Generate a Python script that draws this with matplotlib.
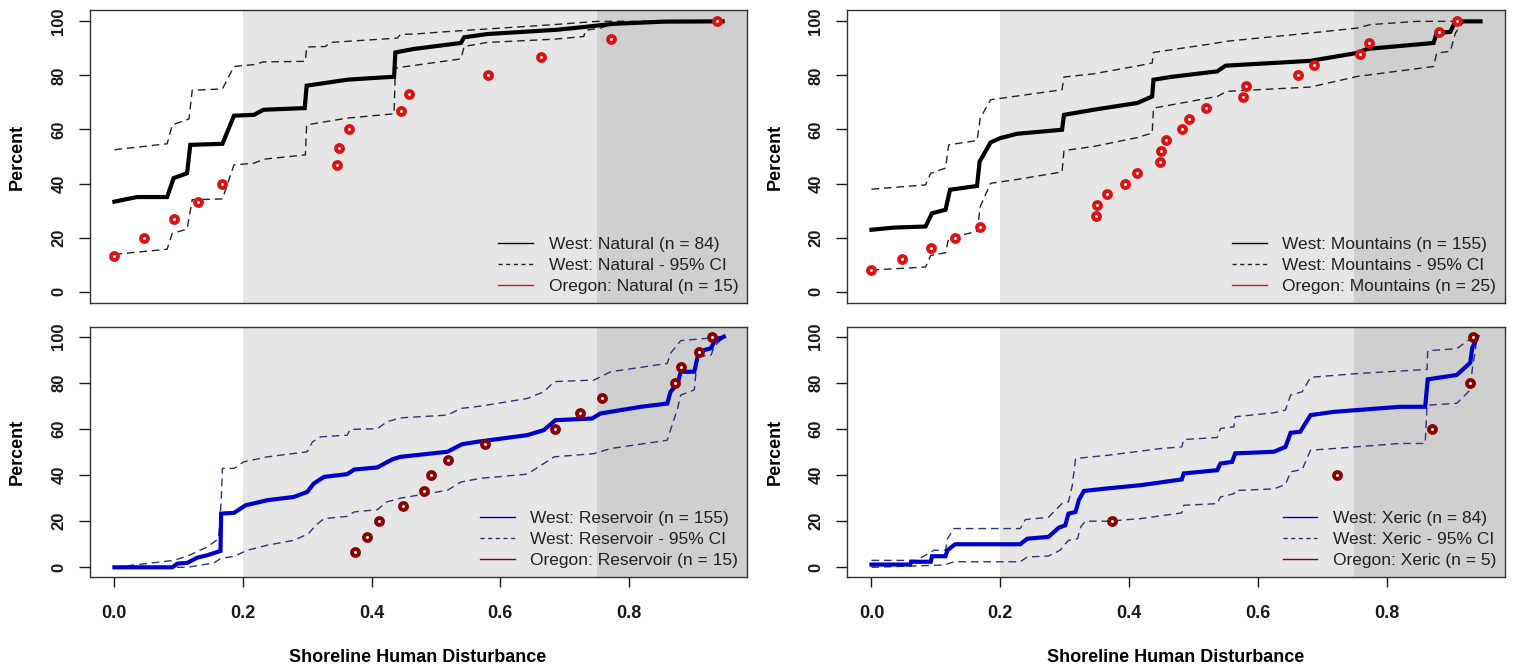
"""Shoreline disturbance CDFs: West vs Oregon, four lake classes."""

import matplotlib
matplotlib.use('Agg')
import matplotlib.pyplot as plt
from matplotlib.lines import Line2D

plt.rcParams['font.family'] = ['Liberation Sans', 'DejaVu Sans']

# ---- data ----
# Natural (top left)
nat_x = [0.0, 0.035, 0.082, 0.092, 0.113, 0.118, 0.168, 0.186, 0.217, 0.232, 0.296, 0.299, 0.362,
         0.393, 0.435, 0.437, 0.466, 0.539, 0.544, 0.58, 0.689, 0.730, 0.777, 0.855, 0.946]
nat_y = [33.3, 35.0, 35.0, 42.0, 43.8, 54.3, 54.7, 65.1, 65.4, 67.3, 67.9, 76.2, 78.4,
         78.9, 79.5, 88.5, 89.8, 92.0, 94.1, 95.3, 96.9, 97.9, 99.1, 99.9, 100.0]
nat_hi_x = [0.0, 0.082, 0.09, 0.116, 0.121, 0.168, 0.186, 0.217, 0.232, 0.297, 0.299, 0.328, 0.336,
            0.44, 0.445, 0.466, 0.523, 0.684, 0.751, 0.946]
nat_hi_y = [52.5, 54.7, 61.7, 63.9, 74.5, 75.0, 83.3, 84.0, 85.0, 85.2, 90.5, 90.7, 92.2,
            93.8, 95.2, 95.3, 96.3, 98.8, 100.0, 100.0]
nat_lo_x = [0.0, 0.082, 0.09, 0.113, 0.121, 0.168, 0.186, 0.217, 0.232, 0.297, 0.299, 0.362, 0.435,
            0.437, 0.463, 0.539, 0.544, 0.58, 0.684, 0.73, 0.733, 0.756, 0.772, 0.855, 0.946]
nat_lo_y = [13.8, 15.7, 21.6, 23.1, 34.0, 34.3, 46.9, 47.5, 49.0, 50.6, 61.7, 64.2, 65.8,
            82.7, 83.6, 86.1, 90.7, 92.2, 93.4, 94.4, 96.7, 97.5, 98.8, 99.6, 100.0]
nat_pt_x = [0.0, 0.046, 0.092, 0.13, 0.168, 0.347, 0.350, 0.365, 0.446, 0.458, 0.581, 0.663, 0.772, 0.937]
nat_pt_y = [13.3, 20.0, 26.7, 33.3, 40.0, 46.7, 53.3, 60.0, 66.7, 73.3, 80.0, 86.7, 93.3, 100.0]

# Mountains (top right)
mtn_x = [0.0, 0.035, 0.084, 0.094, 0.115, 0.122, 0.164, 0.168, 0.185, 0.2, 0.226, 0.296, 0.299, 0.345,
         0.413, 0.436, 0.438, 0.464, 0.537, 0.55, 0.682, 0.754, 0.77, 0.873, 0.878, 0.899, 0.907, 0.946]
mtn_y = [22.9, 23.7, 24.1, 29.0, 30.3, 37.7, 39.1, 48.1, 55.2, 56.8, 58.4, 59.9, 65.4, 67.3,
         69.8, 72.2, 78.4, 79.4, 81.5, 83.6, 85.4, 88.3, 89.8, 92.0, 95.7, 96.1, 100.0, 100.0]
mtn_hi_x = [0.0, 0.084, 0.092, 0.115, 0.12, 0.164, 0.169, 0.185, 0.221, 0.296, 0.299, 0.345, 0.413,
            0.436, 0.438, 0.537, 0.55, 0.682, 0.754, 0.775, 0.847, 0.946]
mtn_hi_y = [37.9, 39.5, 43.8, 45.7, 54.3, 55.9, 64.2, 71.0, 72.2, 74.7, 79.4, 80.6, 83.5,
            84.6, 88.5, 92.0, 92.6, 95.7, 97.5, 98.8, 100.0, 100.0]
mtn_lo_x = [0.0, 0.084, 0.092, 0.115, 0.12, 0.164, 0.169, 0.185, 0.221, 0.296, 0.299, 0.345, 0.413,
            0.436, 0.438, 0.537, 0.552, 0.682, 0.754, 0.873, 0.878, 0.899, 0.907, 0.92, 0.946]
mtn_lo_y = [8.0, 9.1, 13.4, 14.4, 19.8, 22.3, 31.5, 40.1, 41.3, 44.3, 52.2, 53.7, 57.0,
            58.7, 67.9, 72.2, 74.1, 75.7, 79.6, 83.3, 88.3, 88.9, 95.7, 100.0, 100.0]
mtn_pt_x = [0.0, 0.048, 0.093, 0.130, 0.168, 0.348, 0.351, 0.366, 0.394, 0.413, 0.448, 0.450,
            0.458, 0.482, 0.493, 0.520, 0.577, 0.582, 0.662, 0.687, 0.759, 0.772, 0.881, 0.909]
mtn_pt_y = [8, 12, 16, 20, 24, 28, 32, 36, 40, 44, 48, 52, 56, 60, 64, 68, 72, 76, 80, 84, 88, 92, 96, 100]

# Reservoir (bottom left)
res_x = [0.0, 0.09, 0.098, 0.113, 0.129, 0.144, 0.165, 0.166, 0.186, 0.204, 0.238, 0.279, 0.3,
         0.31, 0.326, 0.362, 0.373, 0.409, 0.432, 0.445, 0.518, 0.541, 0.564, 0.642, 0.668,
         0.686, 0.743, 0.756, 0.819, 0.86, 0.865, 0.876, 0.881, 0.902, 0.909, 0.928, 0.933, 0.948]
res_y = [0.0, 0.0, 1.6, 1.9, 4.2, 5.2, 7.1, 23.3, 23.6, 26.9, 29.1, 30.5, 32.7,
         36.3, 39.2, 40.4, 42.4, 43.3, 46.8, 47.9, 50.1, 53.4, 54.4, 57.3, 59.5,
         63.8, 64.5, 66.7, 69.6, 71.0, 76.1, 79.7, 84.8, 84.8, 93.5, 95.0, 97.8, 100.0]
res_hi_x = [0.0, 0.092, 0.113, 0.144, 0.162, 0.166, 0.168, 0.186, 0.201, 0.238, 0.3, 0.308,
            0.321, 0.362, 0.367, 0.409, 0.424, 0.445, 0.518, 0.539, 0.57, 0.642, 0.668,
            0.684, 0.746, 0.772, 0.86, 0.865, 0.881, 0.922, 0.934, 0.948]
res_hi_y = [0.0, 3.0, 4.8, 8.8, 12.4, 28.4, 42.9, 42.9, 45.7, 47.9, 50.1, 54.4,
            56.6, 57.3, 59.8, 60.1, 63.1, 64.8, 66.0, 68.9, 69.9, 73.2, 76.1,
            80.5, 81.2, 84.8, 88.4, 92.8, 98.3, 99.3, 100.0, 100.0]
res_lo_x = [0.0, 0.113, 0.155, 0.165, 0.186, 0.207, 0.238, 0.279, 0.302, 0.313, 0.326, 0.362,
            0.373, 0.409, 0.424, 0.445, 0.518, 0.539, 0.57, 0.642, 0.668, 0.684, 0.746,
            0.772, 0.86, 0.865, 0.876, 0.881, 0.902, 0.907, 0.928, 0.933, 0.948]
res_lo_y = [0.0, 0.0, 1.9, 3.8, 4.8, 7.4, 9.6, 11.7, 14.6, 18.2, 21.1, 22.1,
            24.0, 25.0, 28.4, 30.0, 33.4, 37.0, 38.6, 40.4, 45.0, 47.9, 49.3,
            51.5, 55.1, 59.5, 68.9, 74.7, 76.9, 91.3, 92.0, 95.7, 100.0]
res_pt_x = [0.374, 0.393, 0.412, 0.449, 0.481, 0.492, 0.519, 0.576, 0.686, 0.724, 0.759,
            0.872, 0.881, 0.909, 0.930]
res_pt_y = [6.7, 13.3, 20.0, 26.7, 33.3, 40.0, 46.7, 53.3, 60.0, 66.7, 73.3, 80.0, 86.7, 93.3, 100.0]

# Xeric (bottom right)
xer_x = [0.0, 0.06, 0.062, 0.092, 0.094, 0.115, 0.118, 0.13, 0.231, 0.242, 0.275, 0.291, 0.301,
         0.306, 0.317, 0.322, 0.33, 0.366, 0.418, 0.482, 0.485, 0.537, 0.542, 0.56, 0.565,
         0.625, 0.643, 0.651, 0.666, 0.682, 0.718, 0.821, 0.86, 0.864, 0.909, 0.93, 0.933, 0.941]
xer_y = [1.2, 1.2, 2.4, 2.4, 4.8, 4.8, 7.4, 10.0, 10.0, 12.4, 13.2, 17.2, 18.2,
         23.3, 24.0, 29.1, 33.1, 34.2, 35.6, 38.1, 40.7, 42.1, 45.0, 45.7, 49.4,
         50.1, 52.2, 58.3, 58.8, 66.0, 67.4, 69.6, 69.6, 81.5, 83.4, 88.7, 95.0, 100.0]
xer_hi_x = [0.0, 0.07, 0.097, 0.115, 0.118, 0.128, 0.231, 0.239, 0.275, 0.296, 0.306, 0.312,
            0.317, 0.368, 0.449, 0.482, 0.485, 0.537, 0.542, 0.563, 0.565, 0.625, 0.643,
            0.651, 0.669, 0.682, 0.759, 0.863, 0.864, 0.909, 0.935]
xer_hi_y = [3.0, 3.0, 7.4, 7.4, 12.4, 16.8, 16.8, 20.7, 21.7, 27.7, 28.4, 35.6,
            47.2, 48.6, 51.5, 52.2, 55.4, 56.3, 60.2, 60.9, 65.3, 67.0, 68.2,
            74.7, 76.1, 82.4, 84.1, 85.8, 93.9, 94.8, 100.0]
xer_lo_x = [0.0, 0.113, 0.128, 0.231, 0.242, 0.275, 0.293, 0.306, 0.32, 0.325, 0.332, 0.366,
            0.418, 0.482, 0.485, 0.537, 0.542, 0.563, 0.565, 0.625, 0.643, 0.651, 0.669,
            0.682, 0.718, 0.821, 0.86, 0.863, 0.909, 0.93, 0.933, 0.941]
xer_lo_y = [0.0, 1.0, 2.4, 2.4, 4.5, 4.9, 7.4, 11.7, 12.4, 17.5, 20.0, 20.0,
            21.1, 23.6, 26.9, 27.6, 30.5, 31.9, 33.3, 34.0, 35.9, 41.4, 42.4,
            50.8, 51.5, 53.7, 53.7, 70.3, 71.1, 76.9, 85.5, 100.0]
xer_pt_x = [0.373, 0.723, 0.871, 0.93, 0.935]
xer_pt_y = [20, 40, 60, 80, 100]

x_ticks = [0.0, 0.2, 0.4, 0.6, 0.8]
y_ticks = [0, 20, 40, 60, 80, 100]

W, H = 1514, 669
fig = plt.figure(figsize=(W / 100, H / 100), dpi=100)


def box(l, t, r, b):
    return [l / W, 1 - b / H, (r - l) / W, (b - t) / H]


def panel(rect, name, n_west, n_or, west, hi, lo, pts, line_col, ci_col, pt_col, bottom):
    ax = fig.add_axes(rect)
    ax.set_xlim(-0.038, 0.984)
    ax.set_ylim(-4.2, 104.2)
    ax.axvspan(0.2, 0.75, color='#E6E6E6', lw=0, zorder=0)
    ax.axvspan(0.75, 1.0, color='#CFCFCF', lw=0, zorder=0)
    ax.plot(hi[0], hi[1], color=ci_col, lw=1.0, dashes=(5.5, 3.5), zorder=2)
    ax.plot(lo[0], lo[1], color=ci_col, lw=1.0, dashes=(5.5, 3.5), zorder=2)
    ax.plot(west[0], west[1], color=line_col, lw=3.0, zorder=3, solid_joinstyle='miter')
    ax.plot(pts[0], pts[1], ls='none', marker='o', ms=5.0, mew=2.8, mfc='white', mec=pt_col, zorder=4)
    ax.set_yticks(y_ticks)
    ax.set_yticklabels([str(v) for v in y_ticks], rotation=90, va='center', fontsize=12, fontweight='bold')
    ax.tick_params(axis='y', length=8, width=1, pad=9, colors='#1a1a1a')
    if bottom:
        ax.set_xticks(x_ticks)
        ax.set_xticklabels([f'{v:.1f}' for v in x_ticks], fontsize=13, fontweight='bold')
        ax.tick_params(axis='x', length=7, width=1, pad=13, colors='#1a1a1a')
    else:
        ax.set_xticks([])
    for sp in ax.spines.values():
        sp.set_color('#333333')
        sp.set_linewidth(1.0)
    handles = [Line2D([], [], color=line_col, lw=1.0),
               Line2D([], [], color=ci_col, lw=1.0, dashes=(3, 2.5)),
               Line2D([], [], color=pt_col, lw=1.0)]
    labels = [f'West: {name} (n = {n_west})', f'West: {name} - 95% CI', f'Oregon: {name} (n = {n_or})']
    leg = ax.legend(handles, labels, loc='lower right', bbox_to_anchor=(1.0, 0.0), frameon=False,
                    fontsize=12.5, labelspacing=0.34, handlelength=2.0, handletextpad=0.9,
                    borderpad=0.3, borderaxespad=0.2)
    for t in leg.get_texts():
        t.set_color('#222222')
    return ax


panel(box(90, 10, 747, 303), 'Natural', 84, 15, (nat_x, nat_y), (nat_hi_x, nat_hi_y),
      (nat_lo_x, nat_lo_y), (nat_pt_x, nat_pt_y), 'black', '#222222', '#DD1111', False)
panel(box(847, 10, 1505, 303), 'Mountains', 155, 25, (mtn_x, mtn_y), (mtn_hi_x, mtn_hi_y),
      (mtn_lo_x, mtn_lo_y), (mtn_pt_x, mtn_pt_y), 'black', '#222222', '#DD1111', False)
panel(box(90, 327, 747, 577), 'Reservoir', 155, 15, (res_x, res_y), (res_hi_x, res_hi_y),
      (res_lo_x, res_lo_y), (res_pt_x, res_pt_y), '#0000CC', '#333377', '#8B0000', True)
panel(box(847, 327, 1505, 577), 'Xeric', 84, 5, (xer_x, xer_y), (xer_hi_x, xer_hi_y),
      (xer_lo_x, xer_lo_y), (xer_pt_x, xer_pt_y), '#0000CC', '#333377', '#8B0000', True)

for px, py in [(17, 157), (17, 452), (775, 157), (775, 452)]:
    fig.text(px / W, 1 - py / H, 'Percent', rotation=90, ha='center', va='center',
             fontsize=13, fontweight='bold')
for px in [418, 1176]:
    fig.text(px / W, 1 - 657 / H, 'Shoreline Human Disturbance', ha='center', va='center',
             fontsize=13, fontweight='bold')

fig.savefig('out.png', dpi=100, facecolor='white')
